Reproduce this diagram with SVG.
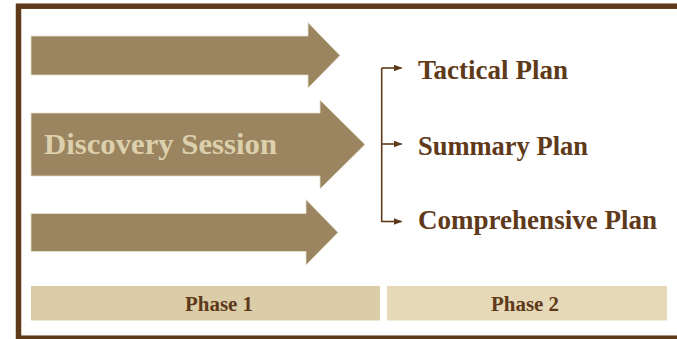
<svg xmlns="http://www.w3.org/2000/svg" width="677" height="339" viewBox="0 0 677 339">
<defs>
<marker id="ah" markerWidth="9" markerHeight="7" refX="8" refY="3.5" orient="auto" markerUnits="userSpaceOnUse">
<path d="M0,0 L9,3.5 L0,7 Z" fill="#5e3a1a"/>
</marker>
</defs>
<style>
.arrow{fill:#9b8560;stroke:#e9e0cc;stroke-width:0.8}
.plan{font-family:"Liberation Serif",serif;font-weight:bold;font-size:28px;fill:#5e3a1a}
.phase{font-family:"Liberation Serif",serif;font-weight:bold;font-size:20px;fill:#5e3a1a}
.conn{fill:none;stroke:#5e3a1a;stroke-width:1.6}
</style>
<rect x="0" y="0" width="677" height="339" fill="#ffffff"/>
<rect id="frame" x="18.5" y="6.2" width="670" height="332" fill="none" stroke="#5e3a1a" stroke-width="5.5"/>
<g id="arrow1"><path class="arrow" d="M31,36 L308,36 L308,22.5 L340,55.5 L308,88 L308,75 L31,75 Z"/></g>
<g id="arrow2"><path class="arrow" d="M31,113 L320,113 L320,100 L365,144.5 L320,189 L320,176 L31,176 Z"/>
<text x="44" y="153.5" font-family="Liberation Serif, serif" font-weight="bold" font-size="29.5" fill="#ddd0ad" textLength="233" lengthAdjust="spacingAndGlyphs">Discovery Session</text></g>
<g id="arrow3"><path class="arrow" d="M31,213.5 L306,213.5 L306,199.5 L338,232.5 L306,265 L306,251.5 L31,251.5 Z"/></g>
<g id="connectors">
<path class="conn" d="M381.7,68 L381.7,222"/>
<path class="conn" d="M381.7,68 L401.5,68" marker-end="url(#ah)"/>
<path class="conn" d="M381.7,144 L401.5,144" marker-end="url(#ah)"/>
<path class="conn" d="M381.7,221.5 L401.5,221.5" marker-end="url(#ah)"/>
</g>
<g id="tactical"><text class="plan" x="418" y="78.5" textLength="150" lengthAdjust="spacingAndGlyphs">Tactical Plan</text></g>
<g id="summary"><text class="plan" x="418" y="154.5" textLength="170" lengthAdjust="spacingAndGlyphs">Summary Plan</text></g>
<g id="comprehensive"><text class="plan" x="418" y="228.5" textLength="239" lengthAdjust="spacingAndGlyphs">Comprehensive Plan</text></g>
<g id="phase1"><rect x="31" y="286" width="349" height="34.5" fill="#dbcda8"/>
<text class="phase" x="185" y="311" textLength="68" lengthAdjust="spacingAndGlyphs">Phase 1</text></g>
<g id="phase2"><rect x="387" y="286" width="280" height="34.5" fill="#e5d9b8"/>
<text class="phase" x="491" y="311" textLength="68" lengthAdjust="spacingAndGlyphs">Phase 2</text></g>
</svg>
